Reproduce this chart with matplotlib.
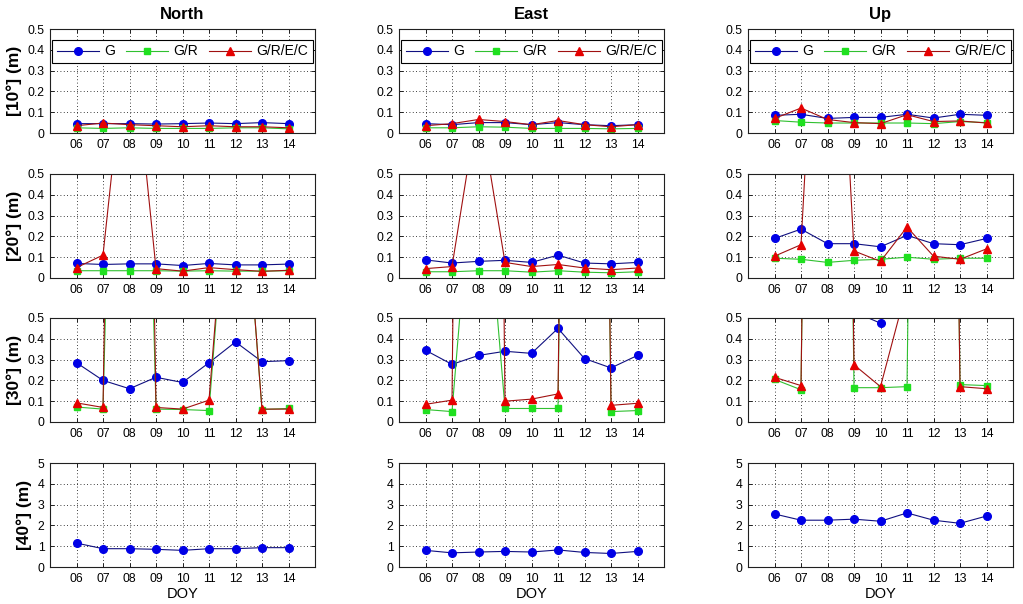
import numpy as np
import matplotlib.pyplot as plt
from matplotlib.ticker import FuncFormatter

plt.rcParams['font.family'] = ['Liberation Sans', 'DejaVu Sans']

doy = [6, 7, 8, 9, 10, 11, 12, 13, 14]
doy_labels = ['06', '07', '08', '09', '10', '11', '12', '13', '14']
components = ['North', 'East', 'Up']
cutoffs = ['[10°] (m)', '[20°] (m)', '[30°] (m)', '[40°] (m)']
series_names = ['G', 'G/R', 'G/R/E/C']

# 10 deg cutoff
g_10n = [0.045, 0.045, 0.045, 0.043, 0.045, 0.048, 0.045, 0.05, 0.045]
gr_10n = [0.025, 0.022, 0.025, 0.022, 0.022, 0.022, 0.025, 0.025, 0.02]
grec_10n = [0.035, 0.048, 0.04, 0.035, 0.03, 0.035, 0.03, 0.03, 0.025]
g_10e = [0.045, 0.04, 0.05, 0.05, 0.04, 0.05, 0.04, 0.035, 0.04]
gr_10e = [0.025, 0.025, 0.03, 0.028, 0.022, 0.022, 0.022, 0.02, 0.022]
grec_10e = [0.035, 0.045, 0.065, 0.055, 0.04, 0.06, 0.04, 0.03, 0.04]
g_10u = [0.085, 0.09, 0.07, 0.075, 0.075, 0.09, 0.072, 0.09, 0.085]
gr_10u = [0.06, 0.052, 0.048, 0.048, 0.048, 0.048, 0.045, 0.055, 0.05]
grec_10u = [0.07, 0.12, 0.065, 0.05, 0.045, 0.088, 0.055, 0.058, 0.048]

# 20 deg cutoff
g_20n = [0.07, 0.065, 0.068, 0.068, 0.06, 0.07, 0.063, 0.063, 0.067]
gr_20n = [0.035, 0.035, 0.035, 0.035, 0.033, 0.035, 0.033, 0.033, 0.035]
grec_20n = [0.05, 0.11, 1.3, 0.045, 0.033, 0.05, 0.04, 0.032, 0.037]
g_20e = [0.087, 0.072, 0.08, 0.085, 0.075, 0.11, 0.072, 0.068, 0.075]
gr_20e = [0.03, 0.03, 0.035, 0.035, 0.028, 0.035, 0.028, 0.025, 0.03]
grec_20e = [0.045, 0.055, 0.85, 0.075, 0.055, 0.065, 0.048, 0.04, 0.048]
g_20u = [0.19, 0.235, 0.165, 0.165, 0.15, 0.205, 0.165, 0.16, 0.19]
gr_20u = [0.095, 0.09, 0.075, 0.085, 0.09, 0.1, 0.09, 0.095, 0.095]
grec_20u = [0.105, 0.16, 2.5, 0.13, 0.08, 0.245, 0.105, 0.09, 0.14]

# 30 deg cutoff
g_30n = [0.285, 0.2, 0.16, 0.215, 0.19, 0.285, 0.385, 0.29, 0.295]
gr_30n = [0.072, 0.062, 5.0, 0.062, 0.06, 0.055, 1.7, 0.06, 0.065]
grec_30n = [0.092, 0.07, 8.0, 0.07, 0.062, 0.105, 1.7, 0.062, 0.062]
g_30e = [0.345, 0.277, 0.32, 0.34, 0.33, 0.45, 0.305, 0.26, 0.32]
gr_30e = [0.06, 0.05, 1.6, 0.065, 0.065, 0.065, 10.0, 0.05, 0.055]
grec_30e = [0.085, 0.105, 12.0, 0.1, 0.11, 0.135, 10.0, 0.08, 0.09]
g_30u = [0.7, 0.65, 0.6, 0.53, 0.475, 0.9, 0.8, 0.7, 0.75]
gr_30u = [0.205, 0.155, 10.0, 0.165, 0.165, 0.17, 10.0, 0.18, 0.175]
grec_30u = [0.215, 0.175, 10.0, 0.275, 0.17, 0.65, 10.0, 0.17, 0.16]

# 40 deg cutoff (only G stays on scale)
g_40n = [1.15, 0.88, 0.88, 0.85, 0.8, 0.88, 0.88, 0.93, 0.93]
g_40e = [0.8, 0.68, 0.72, 0.75, 0.72, 0.82, 0.7, 0.65, 0.75]
g_40u = [2.55, 2.25, 2.25, 2.3, 2.2, 2.6, 2.25, 2.1, 2.45]

panels = [
    [(g_10n, gr_10n, grec_10n), (g_10e, gr_10e, grec_10e), (g_10u, gr_10u, grec_10u)],
    [(g_20n, gr_20n, grec_20n), (g_20e, gr_20e, grec_20e), (g_20u, gr_20u, grec_20u)],
    [(g_30n, gr_30n, grec_30n), (g_30e, gr_30e, grec_30e), (g_30u, gr_30u, grec_30u)],
    [(g_40n, None, None), (g_40e, None, None), (g_40u, None, None)],
]
ylims = [0.5, 0.5, 0.5, 5]

line_cols = ['#101080', '#30c030', '#a01010']
mark_cols = ['#0000e6', '#20e020', '#e60000']
markers = ['o', 's', '^']
msizes = [5.5, 5.0, 6.0]

W, H = 1023, 604
fig = plt.figure(figsize=(W / 100, H / 100), dpi=100)
lefts = [50, 399, 748]
tops = [29, 174, 318, 463]
aw, ah = 265, 104

fmt = FuncFormatter(lambda v, p: '%g' % v)

for r in range(4):
    for c in range(3):
        ax = fig.add_axes([lefts[c] / W, 1 - (tops[r] + ah) / H, aw / W, ah / H])
        for k in range(3):
            vals = panels[r][c][k]
            if vals is None:
                continue
            ax.plot(doy, vals, '-', color=line_cols[k], lw=0.8, marker=markers[k],
                    ms=msizes[k], mfc=mark_cols[k], mec=mark_cols[k], label=series_names[k])
        ax.set_xlim(5, 15)
        ax.set_ylim(0, ylims[r])
        ax.set_xticks(doy)
        ax.set_xticklabels(doy_labels)
        if r < 3:
            ax.set_yticks(np.arange(0, 0.51, 0.1))
        else:
            ax.set_yticks(np.arange(0, 5.1, 1))
        ax.yaxis.set_major_formatter(fmt)
        ax.grid(True, color='black', linestyle=(0, (1, 3)), linewidth=0.6)
        ax.tick_params(direction='in', top=True, right=True, length=3,
                       labelsize=8.8, pad=4, width=0.6)
        for s in ax.spines.values():
            s.set_linewidth(0.8)
            s.set_color('#202020')
        if r == 0:
            ax.set_title(components[c], fontsize=12, fontweight='bold', pad=7)
            leg = ax.legend(loc='upper center', ncol=3, fontsize=10, handlelength=3.0,
                            columnspacing=0.8, handletextpad=0.4, fancybox=False,
                            framealpha=1, borderpad=0.35, bbox_to_anchor=(0.5, 0.965))
            leg.get_frame().set_edgecolor('black')
            leg.get_frame().set_linewidth(0.8)
        if c == 0:
            ax.set_ylabel(cutoffs[r], fontsize=12.5, fontweight='bold', labelpad=4)
        if r == 3:
            ax.set_xlabel('DOY', fontsize=10.5, labelpad=2)

fig.savefig('out.png', dpi=100)
